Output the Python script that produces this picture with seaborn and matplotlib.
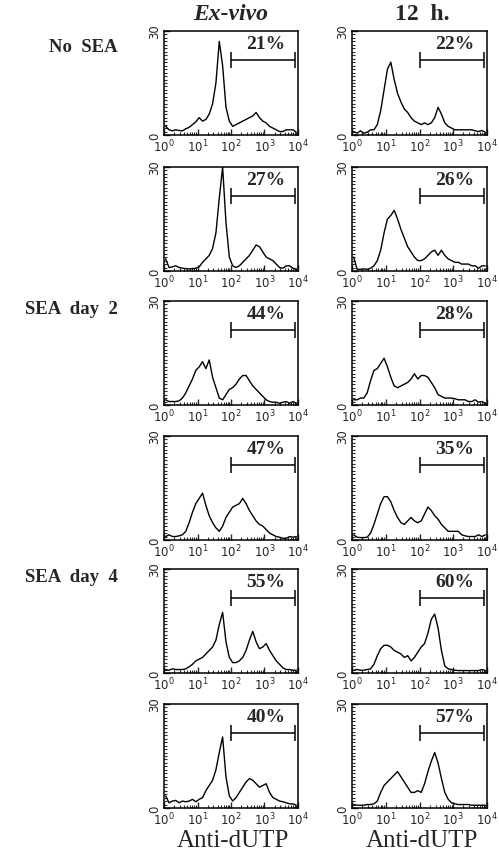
import matplotlib
matplotlib.use("Agg")
import matplotlib.pyplot as plt
import matplotlib.ticker as mticker
import numpy as np
import pandas as pd
import seaborn as sns

sns.set_style("ticks")
plt.rcParams["font.family"] = ["Liberation Serif", "DejaVu Serif"]

# channel positions (log10 of fluorescence), 0.1 decade bins
decades = [0.05, 0.15, 0.25, 0.35, 0.45, 0.55, 0.65, 0.75, 0.85, 0.95,
           1.05, 1.15, 1.25, 1.35, 1.45, 1.55, 1.65, 1.75, 1.85, 1.95,
           2.05, 2.15, 2.25, 2.35, 2.45, 2.55, 2.65, 2.75, 2.85, 2.95,
           3.05, 3.15, 3.25, 3.35, 3.45, 3.55, 3.65, 3.75, 3.85, 3.95]

# ex-vivo column
no_sea_exvivo_a = [2.5, 1.5, 1.2, 1.5, 1.3, 1.2, 1.8, 2.2, 3.0, 3.8,
                   5.0, 4.0, 4.5, 6.0, 9.0, 15.0, 27.0, 20.0, 8.0, 4.0,
                   2.5, 3.0, 3.5, 4.0, 4.5, 5.0, 5.5, 6.5, 5.0, 4.0,
                   3.5, 2.5, 2.0, 1.5, 1.0, 1.0, 1.5, 1.5, 1.5, 0.8]
no_sea_exvivo_b = [3.5, 1.0, 1.2, 1.5, 1.0, 0.8, 0.7, 0.6, 0.7, 0.8,
                   1.2, 2.5, 3.5, 4.5, 6.5, 11.0, 21.0, 30.0, 14.0, 4.0,
                   1.5, 1.0, 1.5, 2.5, 3.5, 4.5, 6.0, 7.5, 7.0, 5.5,
                   4.0, 3.5, 3.0, 2.0, 1.0, 0.8, 1.5, 1.5, 0.8, 0.5]
day2_exvivo_a = [1.5, 1.0, 1.0, 1.0, 1.2, 2.0, 3.5, 5.5, 7.5, 10.0,
                 11.0, 12.5, 10.5, 13.0, 8.0, 5.0, 2.0, 1.5, 3.0, 4.5,
                 5.0, 6.0, 7.5, 8.5, 8.5, 7.0, 5.5, 4.5, 3.5, 2.5,
                 1.5, 1.0, 0.8, 0.8, 0.5, 0.8, 1.0, 0.5, 1.0, 0.5]
day2_exvivo_b = [1.0, 1.5, 1.0, 1.0, 1.2, 1.5, 2.5, 5.0, 8.0, 10.5,
                 12.0, 13.5, 10.0, 7.0, 5.0, 3.5, 2.5, 4.0, 6.5, 8.0,
                 9.5, 10.0, 10.5, 12.0, 10.5, 8.5, 7.0, 5.5, 4.5, 4.0,
                 3.0, 2.0, 1.5, 1.0, 0.8, 0.5, 0.5, 1.0, 0.8, 1.0]
day4_exvivo_a = [1.0, 0.8, 1.2, 1.0, 1.0, 1.0, 1.2, 1.8, 2.5, 3.5,
                 4.0, 4.5, 5.5, 6.5, 7.5, 9.5, 14.0, 17.5, 9.0, 4.5,
                 3.0, 3.0, 3.5, 4.5, 6.5, 9.5, 12.0, 9.0, 7.0, 7.5,
                 8.5, 6.5, 5.0, 3.5, 2.5, 1.5, 1.0, 1.0, 0.8, 0.8]
day4_exvivo_b = [3.5, 1.5, 2.0, 2.2, 1.5, 2.0, 1.8, 2.0, 2.5, 1.8,
                 2.5, 3.0, 5.0, 6.5, 8.0, 11.0, 16.0, 20.5, 9.0, 3.5,
                 2.0, 3.0, 4.5, 6.0, 7.5, 8.5, 8.0, 7.0, 6.0, 6.5,
                 7.0, 4.5, 3.0, 2.5, 2.0, 1.8, 1.5, 1.2, 1.2, 0.8]

# 12 h column
no_sea_12h_a = [1.0, 0.5, 1.2, 0.5, 0.8, 1.5, 1.5, 3.0, 7.0, 13.0,
                19.0, 21.0, 16.0, 12.0, 9.5, 7.5, 6.5, 5.0, 4.0, 3.5,
                3.0, 3.5, 3.0, 3.5, 5.0, 8.0, 6.0, 3.5, 2.5, 2.0,
                1.5, 1.5, 1.5, 1.5, 1.5, 1.5, 1.2, 1.0, 1.3, 0.8]
no_sea_12h_b = [4.0, 0.5, 0.5, 0.6, 0.5, 0.8, 1.5, 3.0, 6.0, 11.0,
                15.0, 16.0, 17.5, 15.0, 12.0, 9.5, 7.0, 5.5, 4.0, 3.0,
                3.0, 3.5, 4.5, 5.5, 6.0, 4.5, 6.0, 4.5, 3.5, 3.0,
                2.5, 2.5, 2.0, 2.0, 2.0, 1.5, 1.5, 0.8, 1.5, 1.5]
day2_12h_a = [1.5, 1.5, 2.0, 2.0, 3.5, 7.0, 10.0, 10.5, 12.0, 13.5,
              11.0, 8.0, 5.5, 5.0, 5.5, 6.0, 6.5, 7.5, 9.0, 7.5,
              8.5, 8.5, 8.0, 6.5, 5.0, 3.0, 2.5, 2.0, 2.0, 2.0,
              1.8, 1.5, 1.5, 1.5, 1.0, 1.0, 1.5, 0.8, 1.0, 0.5]
day2_12h_b = [1.5, 0.8, 0.7, 0.7, 0.8, 2.0, 4.5, 7.5, 10.5, 12.5,
              12.5, 11.0, 8.5, 6.5, 5.0, 4.5, 5.5, 6.5, 5.5, 5.0,
              5.5, 7.5, 9.5, 8.5, 7.0, 6.0, 4.5, 3.5, 2.5, 2.5,
              2.5, 2.5, 1.5, 1.2, 1.0, 1.0, 1.0, 1.5, 1.0, 1.5]
day4_12h_a = [0.8, 1.0, 0.8, 0.8, 1.0, 1.2, 2.5, 5.0, 7.0, 8.0,
              8.0, 7.5, 6.5, 6.0, 5.5, 4.5, 5.0, 3.5, 4.5, 6.0,
              7.5, 8.5, 11.5, 15.5, 17.0, 13.0, 6.5, 2.0, 1.2, 1.0,
              0.8, 0.7, 0.7, 0.7, 0.7, 0.7, 0.7, 0.7, 1.0, 0.7]
day4_12h_b = [1.0, 0.8, 0.8, 0.8, 1.0, 1.0, 1.2, 2.0, 4.5, 6.5,
              7.5, 8.5, 9.5, 10.5, 9.0, 7.5, 6.0, 4.5, 4.5, 5.0,
              4.5, 7.0, 10.5, 13.5, 16.0, 13.0, 8.5, 4.5, 2.5, 1.5,
              1.2, 1.0, 1.0, 1.0, 1.0, 0.8, 0.8, 0.8, 0.8, 0.8]

exvivo_pct = ["21%", "27%", "44%", "47%", "55%", "40%"]
h12_pct = ["22%", "26%", "28%", "35%", "60%", "57%"]
row_labels = ["No  SEA", "SEA  day  2", "SEA  day  4"]
col_titles = ["Ex-vivo", "12  h."]
x_ticks = [1, 10, 100, 1000, 10000]
x_ticklabels = ["$10^0$", "$10^1$", "$10^2$", "$10^3$", "$10^4$"]
gate = [100, 8000]

columns = [
    [no_sea_exvivo_a, no_sea_exvivo_b, day2_exvivo_a, day2_exvivo_b, day4_exvivo_a, day4_exvivo_b],
    [no_sea_12h_a, no_sea_12h_b, day2_12h_a, day2_12h_b, day4_12h_a, day4_12h_b],
]
pcts = [exvivo_pct, h12_pct]

W, H = 499, 854
fig = plt.figure(figsize=(W / 100, H / 100), dpi=100)

col_left = [164, 352]
col_w = [134, 135]
row_top = [32, 168, 302, 437, 570, 705]
ax_h = 104


def px_axes(x0, top, w, h):
    return fig.add_axes([x0 / W, 1 - (top + h) / H, w / W, h / H])


for c in range(2):
    for r in range(6):
        ax = px_axes(col_left[c], row_top[r], col_w[c], ax_h)
        df = pd.DataFrame({"intensity": 10 ** np.array(decades), "count": columns[c][r]})
        sns.lineplot(data=df, x="intensity", y="count", ax=ax, color="black",
                     lw=1.0, estimator=None)
        ax.set_xscale("log")
        ax.set_xlim(1, 1e4)
        ax.set_ylim(0, 30)
        ax.set_xlabel("")
        ax.set_ylabel("")
        ax.set_yticks([0, 30])
        ax.set_yticklabels(["0", "30"], rotation=90, va="center",
                           family="DejaVu Sans", fontsize=8.5)
        ax.yaxis.set_minor_locator(mticker.MultipleLocator(1))
        ax.set_xticks(x_ticks)
        ax.set_xticklabels(x_ticklabels, fontsize=8.5, family="DejaVu Sans")
        ax.xaxis.set_minor_locator(mticker.LogLocator(base=10, subs=np.arange(2, 10), numticks=10))
        ax.xaxis.set_minor_formatter(mticker.NullFormatter())
        ax.tick_params(axis="both", which="major", direction="in", length=4, width=1, pad=2)
        ax.tick_params(axis="both", which="minor", direction="in", length=2.5, width=0.8)
        for s in ax.spines.values():
            s.set_linewidth(1.1)
            s.set_color("black")

        # gate bracket
        ax.hlines(21.5, gate[0], gate[1], color="black", lw=1.1)
        ax.vlines(gate, 19.2, 23.8, color="black", lw=1.1)
        ax.text(10 ** 3.05, 26.3, pcts[c][r], ha="center", va="center",
                fontsize=14, fontweight="bold")

fig.text(231 / W, 1 - 14 / H, col_titles[0], ha="center", va="center",
         fontsize=17, fontweight="bold", style="italic")
fig.text(422 / W, 1 - 14 / H, col_titles[1], ha="center", va="center",
         fontsize=17, fontweight="bold")

for lab, y in zip(row_labels, [48, 310, 578]):
    fig.text(118 / W, 1 - y / H, lab, ha="right", va="center", fontsize=13.5, fontweight="bold")

for x in [233, 422]:
    fig.text(x / W, 1 - 841 / H, "Anti-dUTP", ha="center", va="center", fontsize=18)

fig.savefig("out.png", dpi=100)
